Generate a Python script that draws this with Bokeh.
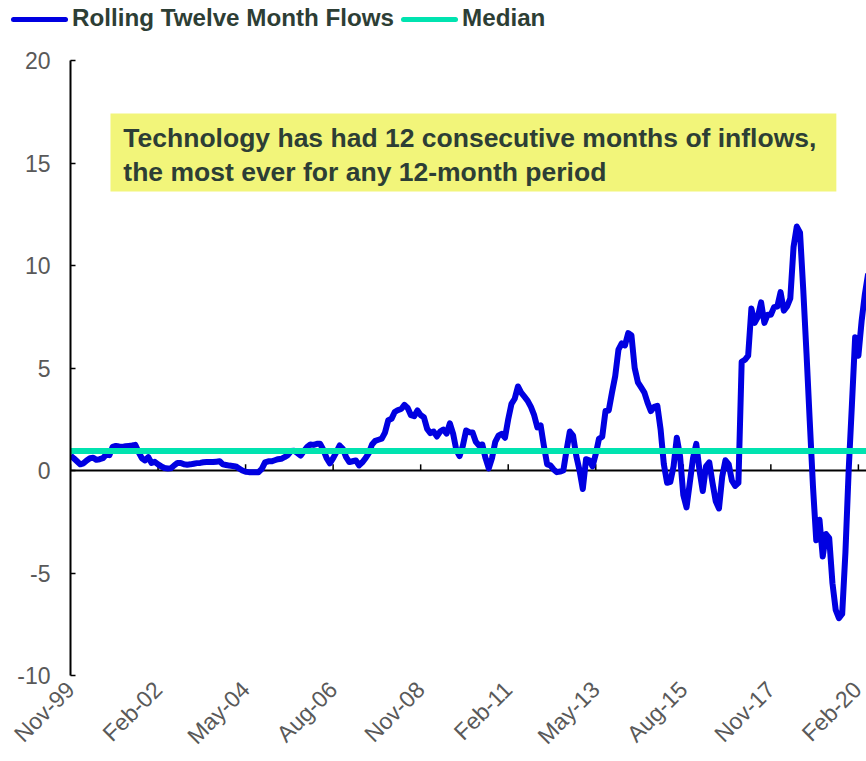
import math
from bokeh.plotting import figure
from bokeh.layouts import column
from bokeh.models import Range1d, FixedTicker, BoxAnnotation, Label, Span, Div
from bokeh.embed import file_html
from bokeh.resources import INLINE

# ---- data (monthly, starting Nov-99) ----
flows = [
    0.73, 0.6, 0.45, 0.3, 0.35, 0.49, 0.6, 0.62, 0.52, 0.55,
    0.6, 0.78, 0.75, 1.15, 1.2, 1.17, 1.15, 1.18, 1.2, 1.22,
    1.25, 0.9, 0.6, 0.49, 0.65, 0.37, 0.42, 0.3, 0.2, 0.12,
    0.1, 0.11, 0.25, 0.37, 0.37, 0.3, 0.28, 0.3, 0.33, 0.36,
    0.37, 0.4, 0.41, 0.41, 0.41, 0.43, 0.45, 0.3, 0.27, 0.24,
    0.22, 0.2, 0.1, 0.0, -0.06, -0.08, -0.08, -0.08, -0.08, 0.08,
    0.4, 0.45, 0.45, 0.5, 0.55, 0.57, 0.65, 0.75, 0.95, 0.96,
    0.85, 0.73, 0.95, 1.15, 1.27, 1.25, 1.3, 1.3, 1.0, 0.6,
    0.35, 0.6, 0.9, 1.22, 1.06, 0.65, 0.41, 0.45, 0.49, 0.25,
    0.4, 0.6, 0.85, 1.27, 1.45, 1.5, 1.55, 1.85, 2.45, 2.52,
    2.85, 2.95, 3.0, 3.2, 3.05, 2.7, 2.65, 2.93, 2.7, 2.6,
    2.03, 1.82, 1.9, 1.66, 1.9, 2.0, 1.8, 2.3, 1.8, 1.0,
    0.7, 1.2, 1.95, 1.87, 1.85, 1.4, 1.22, 1.27, 0.6, 0.1,
    0.6, 1.4, 1.7, 1.79, 1.6, 2.5, 3.25, 3.5, 4.1, 3.8,
    3.6, 3.4, 3.1, 2.7, 2.1, 2.2, 1.2, 0.3, 0.25, 0.05,
    -0.08, -0.05, 0.0, 1.0, 1.9, 1.7, 0.7, 0.0, -0.9, 0.55,
    0.5, 0.2, 0.8, 1.55, 1.65, 2.9, 2.93, 3.8, 4.6, 5.9,
    6.2, 6.1, 6.7, 6.6, 5.0, 4.3, 4.05, 3.8, 3.3, 2.9,
    3.1, 3.15, 2.0, 0.3, -0.6, -0.55, 0.2, 1.6, 0.7, -1.2,
    -1.8, -0.6, 0.6, 1.3, 0.0, -1.0, 0.2, 0.4, -0.6, -1.5,
    -1.85, -0.3, 0.5, 0.3, -0.5, -0.75, -0.6, 5.3, 5.4, 5.6,
    7.9, 7.2, 7.5, 8.2, 7.2, 7.6, 7.6, 7.97, 8.0, 8.7,
    7.8, 8.0, 8.4, 10.9, 11.9, 11.6, 8.8, 5.7, 2.4, -0.8,
    -3.4, -2.4, -4.2, -3.1, -3.3, -5.5, -6.8, -7.2, -7.0, -4.0,
    0.0, 3.2, 6.5, 5.6, 7.3, 8.6, 9.6,
]
median_value = 0.95
tick_months = [0, 27, 54, 81, 108, 135, 162, 189, 216, 243]
tick_labels = ["Nov-99", "Feb-02", "May-04", "Aug-06", "Nov-08",
               "Feb-11", "May-13", "Aug-15", "Nov-17", "Feb-20"]
y_ticks = [-10, -5, 0, 5, 10, 15, 20]
series_names = ["Rolling Twelve Month Flows", "Median"]
note_lines = ["Technology has had 12 consecutive months of inflows,",
              "the most ever for any 12-month period"]

months = list(range(len(flows)))
median = [median_value] * len(flows)

FONT = "Liberation Sans"
DARK = "#2D3E35"
GRAY = "#595959"
BLUE = "#0000E1"
TEAL = "#00E3B0"

# ---------------- main chart ----------------
p = figure(width=866, height=725, output_backend="svg", toolbar_location=None,
           x_range=Range1d(0, 245.5), y_range=Range1d(-10, 20),
           min_border_left=70, min_border_right=0, min_border_top=24,
           min_border_bottom=86)
p.xgrid.visible = False
p.ygrid.visible = False
p.outline_line_color = None
p.background_fill_color = "white"
p.border_fill_color = "white"

# zero line with small ticks
p.add_layout(Span(location=0, dimension="width", line_color="black",
                  line_width=2, level="underlay"))
p.segment(x0=tick_months, y0=[0] * len(tick_months), x1=tick_months,
          y1=[0.3] * len(tick_months), line_color="black", line_width=1.5)

p.line(months, flows, line_color=BLUE, line_width=6, line_join="round")
p.line(months, median, line_color=TEAL, line_width=6)

# y axis
ya = p.yaxis[0]
ya.ticker = FixedTicker(ticks=y_ticks)
ya.major_label_overrides = {t: str(t) for t in y_ticks}
ya.axis_line_color = "black"
ya.axis_line_width = 2
ya.major_tick_in = 5
ya.major_tick_out = 0
ya.major_tick_line_color = "black"
ya.major_tick_line_width = 1.5
ya.minor_tick_line_color = None
ya.major_label_text_font = FONT
ya.major_label_text_font_size = "23px"
ya.major_label_text_color = GRAY
ya.major_label_standoff = 20

# x axis (labels only)
xa = p.xaxis[0]
xa.ticker = FixedTicker(ticks=tick_months)
xa.major_label_overrides = {m: lab for m, lab in zip(tick_months, tick_labels)}
xa.axis_line_color = None
xa.major_tick_line_color = None
xa.minor_tick_line_color = None
xa.major_tick_in = 0
xa.major_tick_out = 0
xa.major_label_orientation = math.pi / 4
xa.major_label_text_font = FONT
xa.major_label_text_font_size = "23px"
xa.major_label_text_color = GRAY
xa.major_label_standoff = 10

# annotation box
p.add_layout(BoxAnnotation(left=12.33, right=236.2, top=17.41, bottom=13.61,
                           fill_color="#F2F57A", fill_alpha=1.0, line_color=None))
for txt, yy in zip(note_lines, [16.2, 14.54]):
    p.add_layout(Label(x=16.3, y=yy, text=txt, text_font=FONT,
                       text_font_style="bold", text_font_size="26.5px",
                       text_color=DARK, text_baseline="alphabetic"))

# ---------------- legend strip (HTML) ----------------
def swatch(color, left):
    return (f'<span style="display:inline-block;width:57px;height:5px;'
            f'background:{color};border-radius:3px;vertical-align:middle;'
            f'margin-left:{left}px;margin-right:4px;"></span>')

legend_html = (
    f'<div style="font-family:\'{FONT}\';font-weight:bold;font-size:24.2px;'
    f'color:{DARK};white-space:nowrap;line-height:36px;height:36px;">'
    + swatch(BLUE, 11) + series_names[0]
    + swatch(TEAL, 7) + series_names[1]
    + '</div>'
)
legend_div = Div(text=legend_html, width=866, height=36, margin=(0, 0, 0, 0))

layout = column(legend_div, p, spacing=0)
open("out.html", "w").write(file_html(layout, INLINE))
